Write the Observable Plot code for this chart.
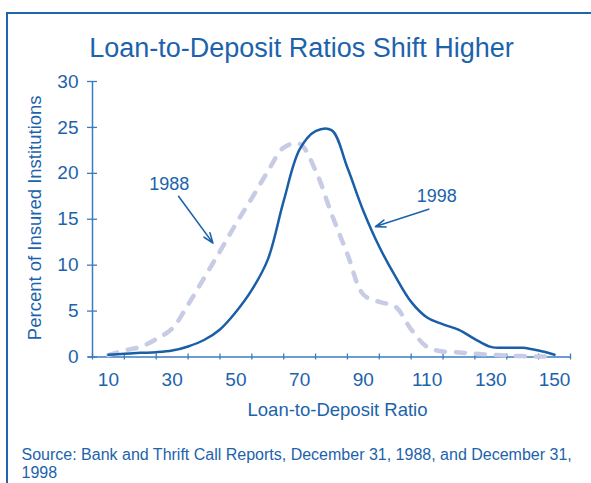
<!DOCTYPE html>
<html><head><meta charset="utf-8">
<script src="https://cdn.jsdelivr.net/npm/d3@7"></script>
<script src="https://cdn.jsdelivr.net/npm/@observablehq/plot@0.6"></script>
<style>
body{margin:0;background:#fff;width:591px;height:483px;overflow:hidden;position:relative;font-family:Arial,"Liberation Sans",sans-serif;}
#frame{position:absolute;left:6px;top:12px;width:620px;height:520px;border-top:2px solid #1f66ae;border-left:2px solid #1f66ae;}
#title{position:absolute;left:0;top:34.5px;width:603px;text-align:center;font-size:27px;line-height:27px;color:#1c63ac;white-space:nowrap;}
#chart{position:absolute;left:0;top:60px;}
#source{position:absolute;left:21.5px;top:445.5px;font-size:16px;line-height:18px;color:#1c63ac;white-space:nowrap;}
</style></head><body>
<div id="frame"></div>
<div id="title">Loan-to-Deposit Ratios Shift Higher</div>
<div id="chart"></div>
<div id="source">Source: Bank and Thrift Call Reports, December 31, 1988, and December 31,<br>1998</div>
<script>
const ratio   = [10, 15, 20, 25, 30, 35, 40, 45, 50, 55, 60, 65, 70, 75, 80, 85, 90, 95, 100, 105, 110, 115, 120, 125, 130, 135, 140, 145, 150];
const pct1988 = [0.2, 0.7, 1.1, 1.95, 3.1, 5.7, 8.6, 11.5, 14.5, 17.3, 20.2, 22.8, 23.2, 20.3, 15.6, 11.2, 6.8, 6.0, 5.5, 3.0, 1.1, 0.6, 0.5, 0.35, 0.25, 0.15, 0.1, 0.05, 0.05];
const pct1998 = [0.25, 0.35, 0.45, 0.52, 0.7, 1.15, 1.85, 3.0, 4.9, 7.3, 10.6, 17.0, 22.6, 24.6, 24.7, 20.6, 15.9, 12.0, 8.8, 6.0, 4.3, 3.55, 2.95, 1.95, 1.1, 1.0, 1.0, 0.7, 0.25];

const xTickMarks = [5, 15, 25, 35, 45, 55, 65, 75, 85, 95, 105, 115, 125, 135, 145, 155];
const xTickLabels = [10, 30, 50, 70, 90, 110, 130, 150];
const yTicks = [0, 5, 10, 15, 20, 25, 30];

const annLabels = ["1988", "1998"];
const annTextX = [29.1, 113.0];
const annTextY = [18.2, 16.9];
const annArrowX1 = [32.0, 110.5];
const annArrowY1 = [17.5, 16.1];
const annArrowX2 = [42.8, 93.8];
const annArrowY2 = [12.4, 14.2];

const textColor = "#1c63ac";
const axisColor = "#3a7cc0";
const color1998 = "#1a5ea8";
const color1988 = "#c7cbe5";

const rows = ratio.map((r, i) => ({ratio: r, y1988: pct1988[i], y1998: pct1998[i]}));
const ann = annLabels.map((l, i) => ({label: l, x: annTextX[i], y: annTextY[i], x1: annArrowX1[i], y1: annArrowY1[i], x2: annArrowX2[i], y2: annArrowY2[i]}));

const chart = Plot.plot({
  width: 591,
  height: 370,
  marginLeft: 92,
  marginRight: 21,
  marginTop: 21,
  marginBottom: 73.5,
  x: {domain: [5, 155]},
  y: {domain: [0, 30]},
  style: {fontFamily: 'Arial, "Liberation Sans", sans-serif', background: "transparent", overflow: "visible"},
  marks: [
    Plot.ruleY([0], {stroke: axisColor, strokeWidth: 1.5, insetLeft: -4}),
    Plot.ruleX([5], {y1: 0, y2: 30, stroke: axisColor, strokeWidth: 1.5}),
    Plot.axisX({ticks: xTickMarks, tickSize: 6, dy: -3, tickFormat: () => "", color: axisColor, strokeWidth: 1.3, label: null}),
    Plot.axisX({ticks: xTickLabels, tickSize: 0, tickPadding: 15, fontSize: 19, color: textColor, label: null}),
    Plot.axisY({ticks: yTicks, tickSize: 10, dx: 5, tickFormat: () => "", color: axisColor, strokeWidth: 1.3, label: null}),
    Plot.axisY({ticks: yTicks, tickSize: 0, tickPadding: 14, fontSize: 19, color: textColor, label: null}),
    Plot.line(rows, {x: "ratio", y: "y1988", stroke: color1988, strokeWidth: 4.5, strokeDasharray: "9,11", strokeLinecap: "round", curve: "catmull-rom"}),
    Plot.line(rows, {x: "ratio", y: "y1998", stroke: color1998, strokeWidth: 2.5, curve: "catmull-rom"}),
    Plot.text(["Loan-to-Deposit Ratio"], {frameAnchor: "bottom", lineAnchor: "bottom", dy: 58.5, dx: 6, fontSize: 18.5, fill: textColor}),
    Plot.text(["Percent of Insured Institutions"], {frameAnchor: "left", textAnchor: "middle", rotate: -90, dx: -57, dy: -1.5, fontSize: 18.5, fill: textColor}),
    Plot.text(ann, {x: "x", y: "y", text: "label", lineAnchor: "bottom", fontSize: 18, fill: textColor}),
    Plot.arrow(ann, {x1: "x1", y1: "y1", x2: "x2", y2: "y2", stroke: textColor, strokeWidth: 1.6, headLength: 10, headAngle: 40})
  ]
});
document.getElementById("chart").appendChild(chart);
</script>
</body></html>
